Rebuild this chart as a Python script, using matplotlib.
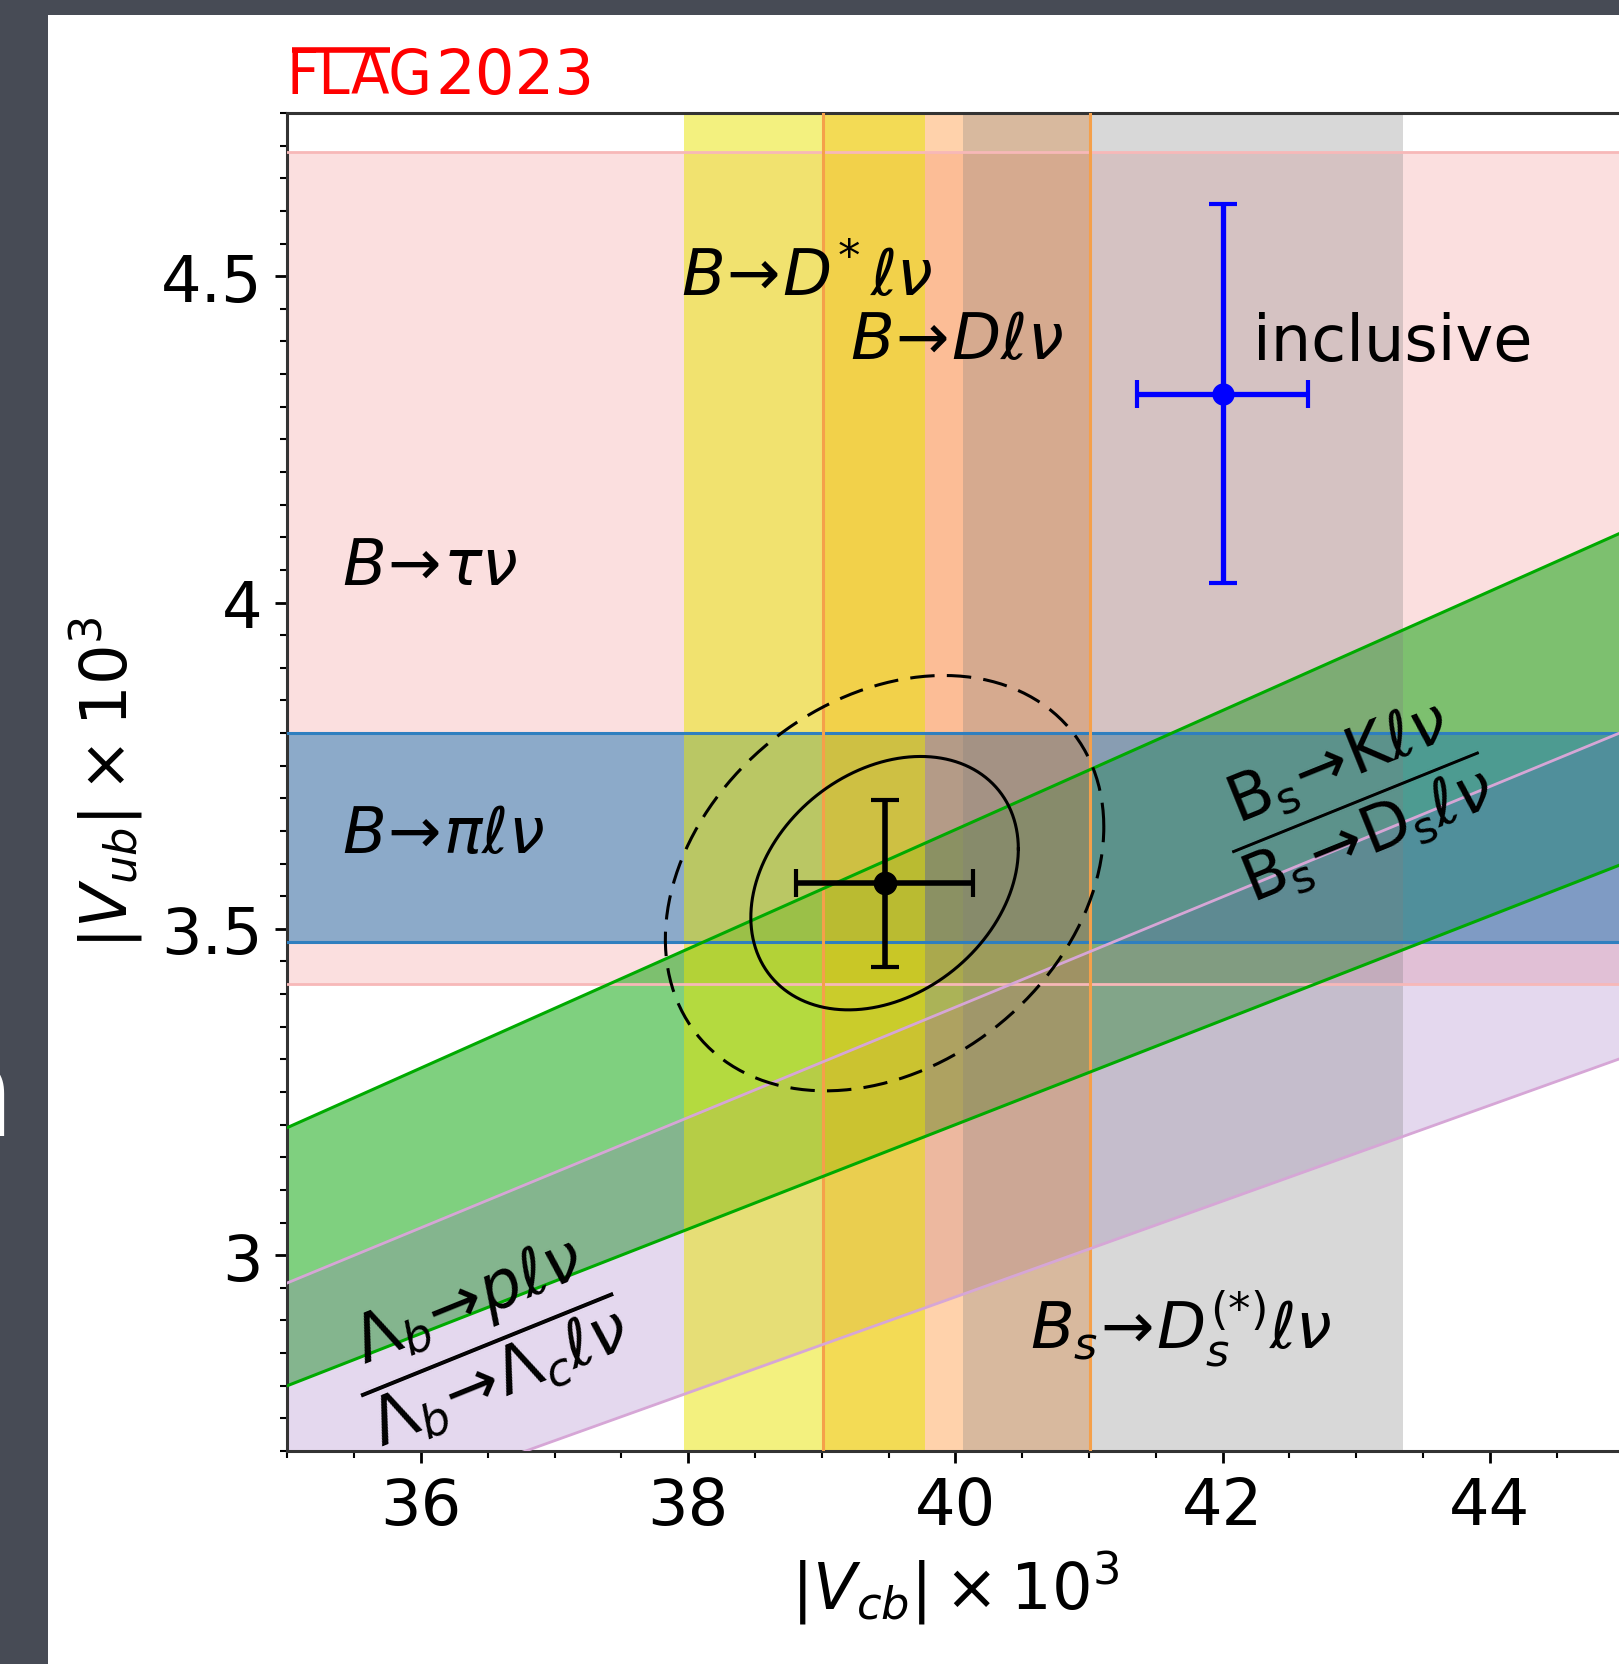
import numpy as np
import matplotlib.pyplot as plt
from matplotlib.patches import Rectangle
from matplotlib.lines import Line2D
from matplotlib.ticker import MultipleLocator, FormatStrFormatter

# |Vub| x 10^3 horizontal bands
vub_names = ['tau', 'pi']
vub_lo = [3.415, 3.48]
vub_hi = [4.69, 3.80]

# |Vcb| x 10^3 vertical bands
vcb_names = ['D', 'Dstar', 'Bs']
vcb_lo = [39.01, 37.97, 40.06]
vcb_hi = [41.01, 39.77, 43.35]

# |Vub|/|Vcb| ratio bands (Bs->K/Bs->Ds, Lb->p/Lb->Lc)
ratio_lo = [0.0800, 0.0734]
ratio_hi = [0.0913, 0.0845]

# inclusive determination
incl_x, incl_xerr = 42.0, 0.64
incl_y, incl_yerr = 4.32, 0.29

# combined fit
fit_x, fit_xerr = 39.47, 0.66
fit_y, fit_yerr = 3.57, 0.128
fit_rho = 0.27
chi2_levels = [2.30, 6.18]

W, H = 1619, 1665
fig = plt.figure(figsize=(W / 100, H / 100), dpi=100, facecolor='#474b55')
fig.add_artist(Rectangle((48 / W, 0), 1, 1 - 16 / H, transform=fig.transFigure,
                         facecolor='white', edgecolor='none', zorder=-1))
# bit of slide text poking in at the left edge
fig.text(-0.041, 1 - 1136 / H, 'n', color='white', fontsize=92)

ax = fig.add_axes([287.3 / W, 1 - 1452 / H, 1336.2 / W, 1338 / H])
ax.set_xlim(35, 45)
ax.set_ylim(2.7, 4.75)

xs = np.linspace(35, 45, 50)

# draw order: pink, ratio bands, blue, vertical bands, then all edges on top
ax.axhspan(vub_lo[0], vub_hi[0], color='#f08080', alpha=0.25, lw=0, zorder=1)
ax.fill_between(xs, ratio_lo[0] * xs, ratio_hi[0] * xs, color='#00a300', alpha=0.5, lw=0, zorder=1.2)
ax.fill_between(xs, ratio_lo[1] * xs, ratio_hi[1] * xs, color='#9467bd', alpha=0.25, lw=0, zorder=1.3)
ax.axhspan(vub_lo[1], vub_hi[1], color='#1f77b4', alpha=0.5, lw=0, zorder=1.5)
ax.axvspan(vcb_lo[0], vcb_hi[0], color='#ff7f0e', alpha=0.35, lw=0, zorder=2)
ax.axvspan(vcb_lo[1], vcb_hi[1], color='#e9e500', alpha=0.5, lw=0, zorder=2.1)
ax.axvspan(vcb_lo[2], vcb_hi[2], color='gray', alpha=0.3, lw=0, zorder=2.2)

for v in (vub_lo[0], vub_hi[0]):
    ax.axhline(v, color='#f7b8b8', lw=2, zorder=5)
for v in (vub_lo[1], vub_hi[1]):
    ax.axhline(v, color='#2f7fbf', lw=2.2, zorder=6)
for v in (vcb_lo[0], vcb_hi[0]):
    ax.axvline(v, color='#f5a04a', lw=2.2, zorder=6)
ax.plot(xs, ratio_lo[0] * xs, color='#00aa00', lw=2.2, zorder=6)
ax.plot(xs, ratio_hi[0] * xs, color='#00aa00', lw=2.2, zorder=6)
ax.plot(xs, ratio_lo[1] * xs, color='#d6a6d6', lw=2, zorder=6)
ax.plot(xs, ratio_hi[1] * xs, color='#d6a6d6', lw=2, zorder=6)

# fit ellipses
t = np.linspace(0, 2 * np.pi, 300)
cov = np.array([[fit_xerr ** 2, fit_rho * fit_xerr * fit_yerr],
                [fit_rho * fit_xerr * fit_yerr, fit_yerr ** 2]])
L = np.linalg.cholesky(cov)
circ = np.vstack([np.cos(t), np.sin(t)])
for k, ls in zip(chi2_levels, ['-', (0, (8, 4))]):
    pts = np.sqrt(k) * L @ circ
    ax.plot(fit_x + pts[0], fit_y + pts[1], color='black', lw=2.2, ls=ls, zorder=7)

ax.errorbar(fit_x, fit_y, xerr=fit_xerr, yerr=fit_yerr, fmt='o', color='black',
            ms=16, lw=4, capsize=10, capthick=3, zorder=8)
ax.errorbar(incl_x, incl_y, xerr=incl_xerr, yerr=incl_yerr, fmt='o', color='blue',
            ms=15, lw=3.8, capsize=10, capthick=3, zorder=8)

# labels
fs = 46
ax.text(37.95, 4.472, r'$B\!\to\! D^{\!*}\ell\nu$', fontsize=fs, zorder=9)
ax.text(39.21, 4.374, r'$B\!\to\! D\ell\nu$', fontsize=fs, zorder=9)
ax.text(42.23, 4.371, 'inclusive', fontsize=fs, zorder=9)
ax.text(35.41, 4.029, r'$B\!\to\!\tau\nu$', fontsize=fs, zorder=9)
ax.text(35.41, 3.618, r'$B\!\to\!\pi\ell\nu$', fontsize=fs, zorder=9)
ax.text(40.56, 2.858, r'$B_s\!\to\! D_s^{(*)}\ell\nu$', fontsize=fs, zorder=9)
ax.text(42.98, 3.700, r'$\dfrac{\mathrm{B_s\!\to\! K}\ell\nu}{\mathrm{B_s\!\to\! D_s}\ell\nu}$',
        fontsize=46, rotation=22, ha='center', va='center', rotation_mode='anchor', zorder=9)
ax.text(36.48, 2.872, r'$\dfrac{\Lambda_b\!\to\! p\ell\nu}{\Lambda_b\!\to\!\Lambda_c\ell\nu}$',
        fontsize=47, rotation=22, ha='center', va='center', rotation_mode='anchor', zorder=9)

# FLAG logo: bar of the F running over L and A
fx, fy = 286 / W, 1 - 94 / H
fig.text(fx, fy, 'FLAG', color='red', fontsize=45, fontstretch='condensed')
fig.text(435 / W, fy, '2023', color='red', fontsize=45)
r = fig.canvas.get_renderer()
fla = fig.text(fx, fy, 'FLA', fontsize=45, fontstretch='condensed')
bb = fla.get_window_extent(r)
fla.remove()
em = 45 * 100 / 72
ybar = (fy * H + 0.729 * em - 2.8) / H
fig.add_artist(Line2D([(bb.x0 + 0.1 * em) / W, bb.x1 / W], [ybar, ybar], color='red',
                      lw=4, solid_capstyle='butt', transform=fig.transFigure))

ax.set_xlabel(r'$|V_{cb}|\times 10^3$', fontsize=fs, labelpad=8)
ax.set_ylabel(r'$|V_{ub}|\times 10^3$', fontsize=fs, labelpad=12)

ax.xaxis.set_major_locator(MultipleLocator(2))
ax.xaxis.set_minor_locator(MultipleLocator(0.5))
ax.yaxis.set_major_locator(MultipleLocator(0.5))
ax.yaxis.set_minor_locator(MultipleLocator(0.05))
ax.yaxis.set_major_formatter(FormatStrFormatter('%g'))
ax.tick_params(which='major', length=8.5, width=2, labelsize=fs, pad=9)
ax.tick_params(which='minor', length=5, width=1.5)
for s in ax.spines.values():
    s.set_linewidth(2.2)
    s.set_color('#333333')

fig.savefig('out.png', dpi=100, facecolor=fig.get_facecolor())
